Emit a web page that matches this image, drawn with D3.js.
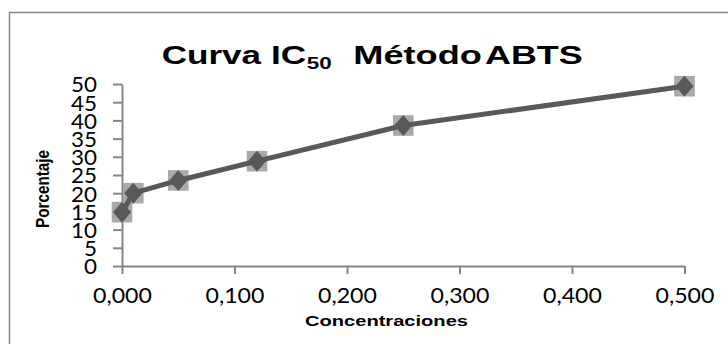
<!DOCTYPE html>
<html>
<head>
<meta charset="utf-8">
<script src="https://cdn.jsdelivr.net/npm/d3@7"></script>
<style>
  html, body { margin: 0; padding: 0; background: #fff; }
  svg { display: block; }
</style>
</head>
<body>
<svg id="chart" width="728" height="344"></svg>
<script>
// Concentration (x) and inhibition percentage (y) for the IC50 curve
const concentraciones = [0, 0.01, 0.05, 0.12, 0.25, 0.5];
const porcentaje = [14.8, 20.0, 23.5, 28.8, 38.6, 49.4];
const xTicks = [0, 0.1, 0.2, 0.3, 0.4, 0.5];
const yTicks = [0, 5, 10, 15, 20, 25, 30, 35, 40, 45, 50];

const svg = d3.select("#chart");
const W = 728, H = 344;
const plot = { left: 122, right: 684.5, top: 84, bottom: 266 };
const axisColor = "#868686";
const lineColor = "#595959";
const shadowColor = "#a9a9a9";
const numFont = "Lato, 'Open Sans', sans-serif";
const boldFont = "'Liberation Sans', Arial, sans-serif";

const x = d3.scaleLinear().domain([0, 0.5]).range([plot.left, plot.right]);
const y = d3.scaleLinear().domain([0, 50]).range([plot.bottom, plot.top]);
const esFormat = d3.formatLocale({ decimal: ",", thousands: ".", grouping: [3], currency: ["", ""] }).format(".3f");

// Outer chart frame (extends past the right and bottom edges)
svg.append("rect")
  .attr("x", 9.5).attr("y", 12.5)
  .attr("width", W + 20).attr("height", H + 20)
  .attr("fill", "none").attr("stroke", axisColor).attr("stroke-width", 1.5);

// Fit a text element to a target width
function fitWidth(sel, widthFn) {
  sel.each(function () {
    d3.select(this).attr("textLength", widthFn(this.textContent)).attr("lengthAdjust", "spacingAndGlyphs");
  });
}

// Y axis
const yAxis = svg.append("g")
  .attr("transform", `translate(${plot.left},0)`)
  .call(d3.axisLeft(y).tickValues(yTicks).tickSize(9).tickPadding(16).tickSizeOuter(0));
yAxis.select(".domain").attr("stroke", axisColor).attr("stroke-width", 2);
yAxis.selectAll(".tick line").attr("stroke", axisColor).attr("stroke-width", 2);
yAxis.selectAll(".tick text")
  .attr("font-family", numFont).attr("font-size", 22).attr("fill", "#000")
  .attr("dy", "0.36em");
fitWidth(yAxis.selectAll(".tick text"), s => 13 * s.length);

// X axis
const xAxis = svg.append("g")
  .attr("transform", `translate(0,${plot.bottom})`)
  .call(d3.axisBottom(x).tickValues(xTicks).tickFormat(esFormat).tickSize(8).tickPadding(13).tickSizeOuter(0));
xAxis.select(".domain").attr("stroke", axisColor).attr("stroke-width", 2);
xAxis.selectAll(".tick line").attr("stroke", axisColor).attr("stroke-width", 2);
xAxis.selectAll(".tick text")
  .attr("font-family", numFont).attr("font-size", 22).attr("fill", "#000");
fitWidth(xAxis.selectAll(".tick text"), () => 59);

// Series data
const pts = concentraciones.map((c, i) => ({ c, p: porcentaje[i] }));

// Square shadow markers
svg.append("g").selectAll("rect")
  .data(pts).join("rect")
  .attr("x", d => x(d.c) - 10.3).attr("y", d => y(d.p) - 10.3)
  .attr("width", 20.6).attr("height", 20.6)
  .attr("fill", shadowColor);

// Connecting line
svg.append("path")
  .datum(pts)
  .attr("d", d3.line().x(d => x(d.c)).y(d => y(d.p)))
  .attr("fill", "none").attr("stroke", lineColor)
  .attr("stroke-width", 5).attr("stroke-linejoin", "round");

// Diamond markers
svg.append("g").selectAll("path")
  .data(pts).join("path")
  .attr("transform", d => `translate(${x(d.c)},${y(d.p)})`)
  .attr("d", "M0,-10.5L9,0L0,10.5L-9,0Z")
  .attr("fill", lineColor);

// Title pieces: "Curva IC" + subscript "50" + "Método ABTS"
const title = svg.append("g").attr("font-family", boldFont).attr("font-weight", "bold").attr("fill", "#000");
title.append("text").attr("x", 161.7).attr("y", 64.3).attr("font-size", 25)
  .attr("textLength", 144.3).attr("lengthAdjust", "spacingAndGlyphs").text("Curva IC");
title.append("text").attr("x", 306.7).attr("y", 69.3).attr("font-size", 16)
  .attr("textLength", 25).attr("lengthAdjust", "spacingAndGlyphs").text("50");
title.append("text").attr("x", 353.3).attr("y", 64.3).attr("font-size", 25)
  .attr("textLength", 128.5).attr("lengthAdjust", "spacingAndGlyphs").text("Método");
title.append("text").attr("x", 485).attr("y", 64.3).attr("font-size", 25)
  .attr("textLength", 97.7).attr("lengthAdjust", "spacingAndGlyphs").text("ABTS");

// Axis titles
svg.append("text")
  .attr("x", 305).attr("y", 325.5)
  .attr("font-family", boldFont).attr("font-weight", "bold").attr("font-size", 14)
  .attr("textLength", 163).attr("lengthAdjust", "spacingAndGlyphs")
  .text("Concentraciones");

svg.append("text")
  .attr("transform", "translate(49,189) rotate(-90)")
  .attr("text-anchor", "middle")
  .attr("font-family", boldFont).attr("font-weight", "bold").attr("font-size", 19)
  .attr("textLength", 78).attr("lengthAdjust", "spacingAndGlyphs")
  .text("Porcentaje");
</script>
</body>
</html>
